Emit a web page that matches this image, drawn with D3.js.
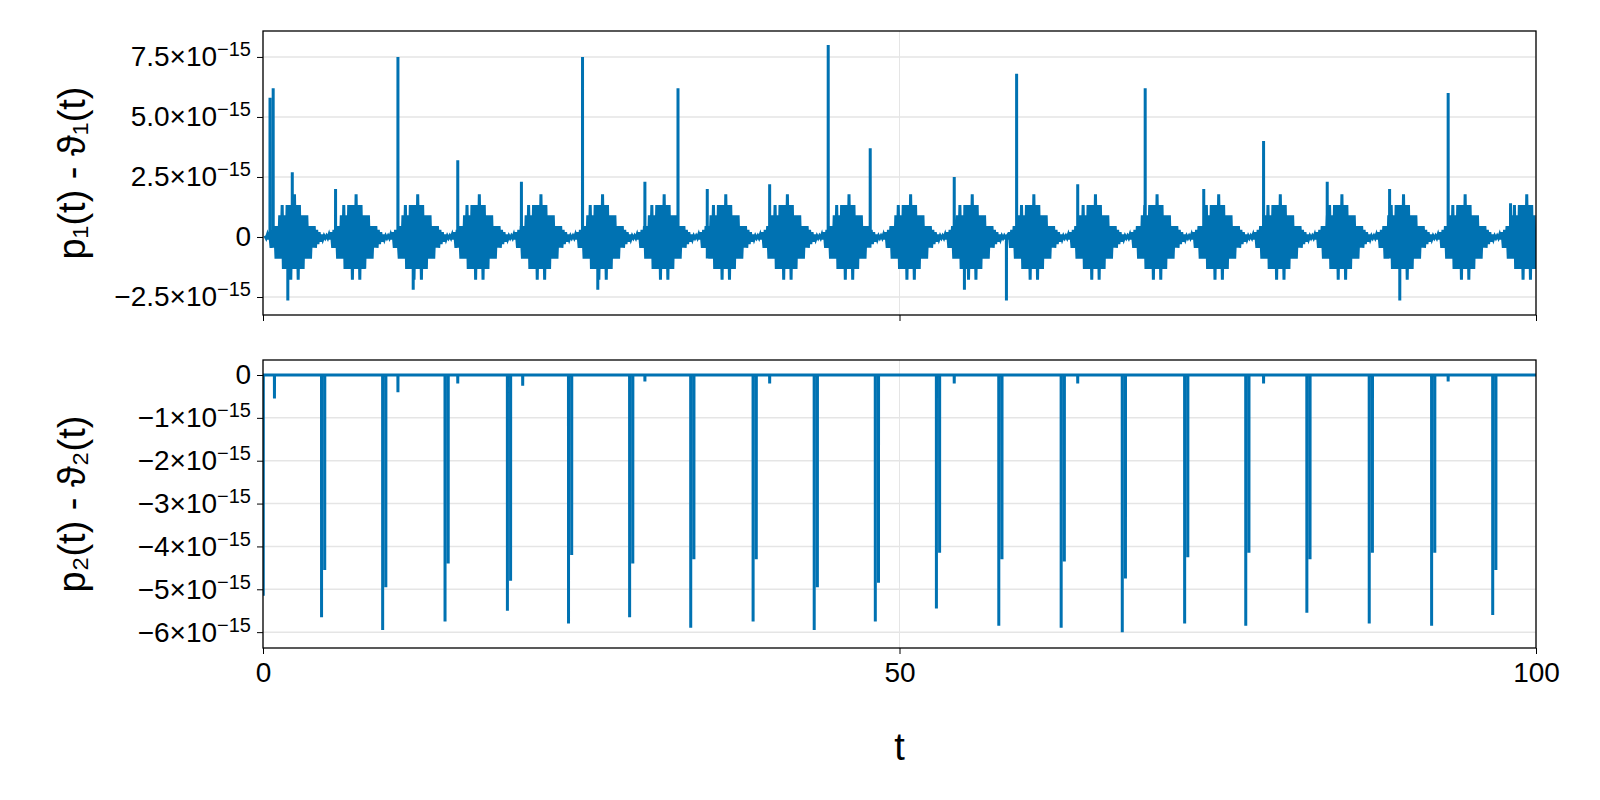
<!DOCTYPE html>
<html><head><meta charset="utf-8">
<script src="https://cdn.jsdelivr.net/npm/d3@7"></script>
<style>html,body{margin:0;background:#fff;overflow:hidden}svg{display:block}text{font-family:"Liberation Sans",Arial,sans-serif}</style>
</head><body><div id="chart"></div>
<script>
// values in units of 1e-15
const period = 4.84;
const burstStart = 0.15;
const burstPattern = [0.05,-0.05,0.1,-0.1,0.2,-0.45,0.3,-0.45,0.45,-0.9,0.45,-0.9,0.9,-0.9,1.33,-1.33,0.9,-1.33,1.33,-1.33,1.33,-1.78,1.33,-1.33,1.78,-1.33,1.33,-1.78,1.33,-1.33,0.9,-1.33,0.9,-0.9,0.9,-0.9,0.45,-0.9,0.45,-0.45,0.45,-0.45,0.3,-0.3,0.2,-0.2,0.1,-0.1,0.05,-0.05];
const topSpikeT = [0.55,0.8,1.95,2.3,5.7,10.6,11.8,15.3,20.3,25.1,26.3,30,32.6,34.9,39.8,44.4,47.7,54.3,55.1,58.4,59.2,64,69.3,73.9,78.6,83.6,88.5,89.3,93.1,98];
const topSpikeV = [5.8,6.2,-2.65,2.7,2.0,7.5,-2.2,3.2,2.3,7.5,-2.2,2.3,6.2,2.0,2.2,8.0,3.7,2.5,-2.2,-2.65,6.8,2.2,6.2,2.0,4.0,2.3,2.0,-2.65,6.0,1.4];
const botSpikeT = [0.02,0.9,4.6,4.85,9.4,9.65,10.6,14.3,14.55,15.3,19.2,19.45,20.4,24.0,24.25,28.8,29.05,30.0,33.6,33.85,38.5,38.75,39.8,43.3,43.55,48.1,48.35,52.9,53.15,54.3,57.8,58.05,62.7,62.95,64.0,67.5,67.75,72.4,72.65,77.2,77.45,78.6,82.0,82.25,86.9,87.15,91.8,92.05,93.1,96.6,96.85];
const botSpikeV = [-5.15,-0.55,-5.65,-4.55,-5.95,-4.95,-0.4,-5.75,-4.4,-0.2,-5.5,-4.8,-0.25,-5.8,-4.2,-5.65,-4.4,-0.15,-5.9,-4.3,-5.75,-4.3,-0.2,-5.95,-4.95,-5.75,-4.85,-5.45,-4.15,-0.2,-5.85,-4.3,-5.9,-4.35,-0.2,-6.0,-4.75,-5.8,-4.25,-5.85,-4.15,-0.2,-5.55,-4.3,-5.8,-4.15,-5.85,-4.15,-0.15,-5.6,-4.55];
const xTicks = [0, 50, 100];
const topTicks = [-2.5, 0, 2.5, 5.0, 7.5];
const botTicks = [-6, -5, -4, -3, -2, -1, 0];

const W = 1600, H = 800, L = 263, R = 1536;
const svg = d3.select("#chart").append("svg").attr("width", W).attr("height", H);
const x = d3.scaleLinear().domain([0, 100]).range([L, R]);
const color = "#0072b2";

// build top series from burst pattern + spikes
let topPts = [];
for (let k = 0; burstStart + k * period < 100; k++) {
  burstPattern.forEach((v, i) => {
    const t = burstStart + k * period + i * period / burstPattern.length;
    if (t <= 100) topPts.push([t, v]);
  });
}
topSpikeT.forEach((t, i) => { topPts.push([t - 0.005, 0], [t, topSpikeV[i]], [t + 0.005, 0]); });
topPts.sort((a, b) => a[0] - b[0]);

let botPts = [[0, 0], [100, 0]];
botSpikeT.forEach((t, i) => { botPts.push([t - 0.005, 0], [t, botSpikeV[i]], [t + 0.005, 0]); });
botPts.sort((a, b) => a[0] - b[0]);

function fmt(dec) {
  return sel => {
    sel.each(function (d) {
      const t = d3.select(this);
      t.text(null);
      if (d === 0) { t.text("0"); return; }
      const s = (d < 0 ? "\u2212" : "") + (dec ? Math.abs(d).toFixed(1) : Math.abs(d)) + "\u00d710";
      t.append("tspan").text(s);
      t.append("tspan").attr("dy", "-0.5em").attr("font-size", "20px").text("\u221215");
    });
  };
}

function panel(y0, y1, domain, ticks, pts, dec, label, showX) {
  const y = d3.scaleLinear().domain(domain).range([y1, y0]);
  const g = svg.append("g");
  g.selectAll(".gy").data(ticks).join("line")
    .attr("x1", L).attr("x2", R).attr("y1", d => y(d)).attr("y2", d => y(d))
    .attr("stroke", "#e5e5e5").attr("stroke-width", 1.5);
  g.selectAll(".gx").data(xTicks).join("line")
    .attr("x1", d => x(d)).attr("x2", d => x(d)).attr("y1", y0).attr("y2", y1)
    .attr("stroke", "#e5e5e5").attr("stroke-width", 1);
  g.append("clipPath").attr("id", "c" + y0).append("rect")
    .attr("x", L).attr("y", y0).attr("width", R - L).attr("height", y1 - y0);
  g.append("path").datum(pts).attr("clip-path", `url(#c${y0})`)
    .attr("d", d3.line().x(d => x(d[0])).y(d => y(d[1])))
    .attr("fill", "none").attr("stroke", color).attr("stroke-width", 3);
  g.append("rect").attr("x", L).attr("y", y0).attr("width", R - L).attr("height", y1 - y0)
    .attr("fill", "none").attr("stroke", "#000").attr("stroke-width", 1.3);
  const ya = g.append("g").attr("transform", `translate(${L},0)`)
    .call(d3.axisLeft(y).tickValues(ticks).tickSize(6).tickPadding(6));
  ya.select(".domain").remove();
  ya.selectAll("text").attr("font-size", "28px").attr("fill", "#000").call(fmt(dec));
  const xa = g.append("g").attr("transform", `translate(0,${y1})`)
    .call(d3.axisBottom(x).tickValues(xTicks).tickSize(6).tickPadding(8));
  xa.select(".domain").remove();
  xa.selectAll("text").attr("font-size", "28px").attr("fill", "#000");
  if (!showX) xa.selectAll("text").remove();
  svg.append("text").attr("transform", `translate(72,${(y0 + y1) / 2}) rotate(-90)`)
    .attr("text-anchor", "middle").attr("dominant-baseline", "central").attr("font-size", "38px").text(label);
}

panel(31, 315, [-3.25, 8.58], topTicks, topPts, true, "p\u2081(t) - \u03d1\u2081(t)", false);
panel(360, 648, [-6.37, 0.35], botTicks, botPts, false, "p\u2082(t) - \u03d1\u2082(t)", true);
svg.append("text").attr("x", x(50)).attr("y", 760).attr("text-anchor", "middle")
  .attr("font-size", "38px").text("t");
</script></body></html>
